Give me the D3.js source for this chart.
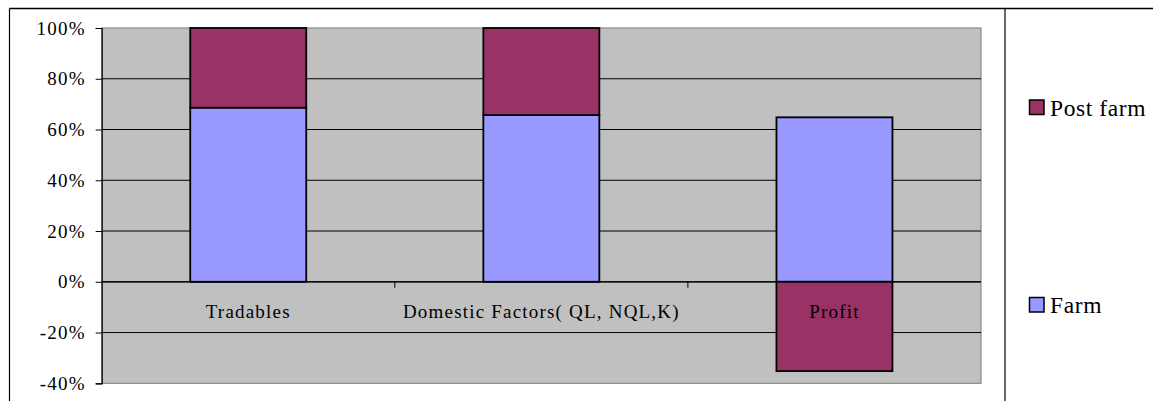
<!DOCTYPE html>
<html>
<head>
<meta charset="utf-8">
<script src="https://cdn.jsdelivr.net/npm/d3@7"></script>
<style>
  html, body { margin: 0; padding: 0; background: #fff; }
  svg { display: block; }
</style>
</head>
<body>
<svg id="chart" width="1153" height="401"></svg>
<script>
const categories = ["Tradables", "Domestic Factors( QL, NQL,K)", "Profit"];
const farm = [68.6, 65.7, 64.8];
const postFarm = [31.4, 34.3, -35.2];
const yTicks = [-40, -20, 0, 20, 40, 60, 80, 100];
const seriesNames = ["Post farm", "Farm"];
const seriesColors = { "Farm": "#9999FF", "Post farm": "#993366" };

const FONT = "'Liberation Serif', 'Times New Roman', Times, 'DejaVu Serif', serif";
const svg = d3.select("#chart").attr("font-family", FONT);
const plot = { left: 101.7, right: 981, top: 28, bottom: 383.3 };

const xOuter = d3.scaleBand().domain(categories).range([plot.left, plot.right]).padding(0);
const y = d3.scaleLinear().domain([-40, 100]).range([plot.bottom, plot.top]);

// outer frame
svg.append("line").attr("x1", 9.5).attr("x2", 1153).attr("y1", 8.5).attr("y2", 8.5).attr("stroke", "#000").attr("stroke-width", 1.5);
svg.append("line").attr("x1", 9.5).attr("x2", 9.5).attr("y1", 8.5).attr("y2", 401).attr("stroke", "#000").attr("stroke-width", 1.2);
svg.append("line").attr("x1", 1005).attr("x2", 1005).attr("y1", 8.5).attr("y2", 401).attr("stroke", "#000").attr("stroke-width", 1.2);

// plot area
svg.append("rect").attr("x", plot.left).attr("y", plot.top)
  .attr("width", plot.right - plot.left).attr("height", plot.bottom - plot.top)
  .attr("fill", "#C0C0C0").attr("stroke", "#8a8a8a").attr("stroke-width", 1.2);

// gridlines
svg.append("g").selectAll("line").data(yTicks.filter(d => d !== -40 && d !== 100)).join("line")
  .attr("x1", plot.left).attr("x2", plot.right)
  .attr("y1", d => y(d)).attr("y2", d => y(d))
  .attr("stroke", "#000").attr("stroke-width", 1);

// y axis
const yAxis = d3.axisLeft(y).tickValues(yTicks).tickSize(6).tickPadding(10).tickFormat(d => d + "%");
const gy = svg.append("g").attr("transform", `translate(${plot.left},0)`).call(yAxis);
gy.attr("font-family", FONT).attr("font-size", 19);
gy.select(".domain").attr("stroke", "#000").attr("stroke-width", 1.2);
gy.selectAll(".tick line").attr("stroke", "#000");
gy.selectAll(".tick text").attr("letter-spacing", "1.2px").attr("fill", "#000");

// category axis line at zero with tick marks
svg.append("line").attr("x1", plot.left).attr("x2", plot.right).attr("y1", y(0)).attr("y2", y(0))
  .attr("stroke", "#000").attr("stroke-width", 1.2);
const boundaries = categories.map(c => xOuter(c)).concat([plot.right]);
svg.append("g").selectAll("line").data(boundaries.slice(1, -1)).join("line")
  .attr("x1", d => d).attr("x2", d => d).attr("y1", y(0)).attr("y2", y(0) + 6)
  .attr("stroke", "#000");

// stacked bars
const barW = 116;
const bars = svg.append("g");
categories.forEach((c, i) => {
  const cx = xOuter(c) + xOuter.bandwidth() / 2;
  const segs = [
    { s: "Farm", y0: 0, y1: farm[i] },
    postFarm[i] >= 0 ? { s: "Post farm", y0: farm[i], y1: farm[i] + postFarm[i] } : { s: "Post farm", y0: postFarm[i], y1: 0 }
  ];
  segs.forEach(sg => {
    bars.append("rect")
      .attr("x", cx - barW / 2).attr("width", barW)
      .attr("y", y(Math.max(sg.y0, sg.y1)))
      .attr("height", Math.abs(y(sg.y0) - y(sg.y1)))
      .attr("fill", seriesColors[sg.s]).attr("stroke", "#000").attr("stroke-width", 1.8);
  });
});

// category labels
svg.append("g").attr("font-family", FONT).selectAll("text").data(categories).join("text")
  .attr("x", d => xOuter(d) + xOuter.bandwidth() / 2)
  .attr("y", y(0) + 36)
  .attr("text-anchor", "middle")
  .attr("font-size", 19)
  .attr("letter-spacing", "1.2px")
  .attr("fill", "#000")
  .text(d => d);

// legend
const legendY = { "Post farm": 107.5, "Farm": 305 };
const lg = svg.append("g").attr("font-family", FONT);
seriesNames.forEach(s => {
  lg.append("rect").attr("x", 1029.5).attr("y", legendY[s] - 7.5).attr("width", 14.5).attr("height", 14.5)
    .attr("fill", seriesColors[s]).attr("stroke", "#000").attr("stroke-width", 1.5);
  lg.append("text").attr("x", 1050).attr("y", legendY[s] + 8).attr("font-size", 23.5)
    .attr("letter-spacing", "0.6px").attr("fill", "#000").text(s);
});
</script>
</body>
</html>
